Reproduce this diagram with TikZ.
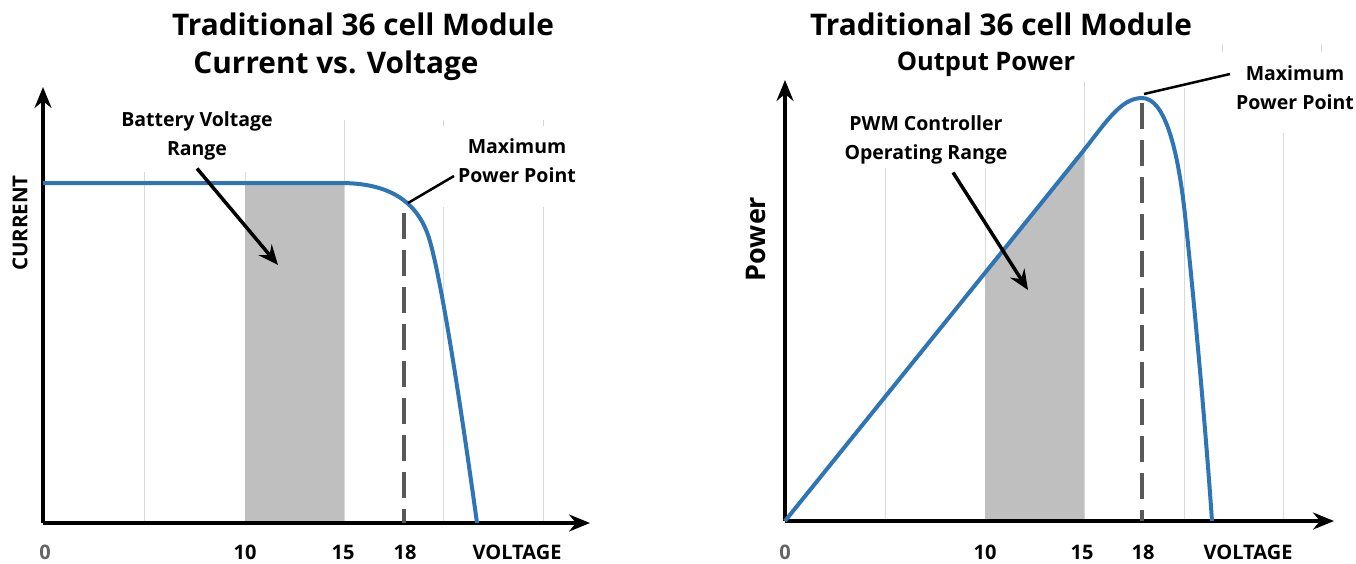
\documentclass[tikz,border=0pt]{standalone}
\usepackage{fontspec}
\setmainfont{Open Sans}
\usetikzlibrary{arrows.meta}
\definecolor{pvblue}{RGB}{46,117,182}
\definecolor{pvshade}{RGB}{191,191,191}
\definecolor{pvdash}{RGB}{89,89,89}
\definecolor{pvgrid}{RGB}{217,217,217}
\definecolor{pvzero}{RGB}{100,100,100}

\begin{document}
\begin{tikzpicture}[x=1pt, y=-1pt,
    ttl/.style={font=\bfseries\fontsize{29.8}{34}\selectfont, inner sep=0pt, anchor=base},
    subttl/.style={font=\bfseries\fontsize{25.5}{28}\selectfont, inner sep=0pt, anchor=base},
    lbl/.style={font=\bfseries\fontsize{19.5}{29}\selectfont, align=center, inner sep=0pt},
    tck/.style={font=\bfseries\fontsize{20}{22}\selectfont, inner sep=0pt, anchor=base},
    axis/.style={line width=3.5pt, -{Stealth[length=21pt, width=17pt, inset=7pt]}},
    pointer/.style={line width=3.5pt, -{Stealth[length=20pt, width=17pt, inset=7pt]}},
    leader/.style={line width=2.5pt},
    curve/.style={line width=4pt, draw=pvblue, line join=round},
    mpp/.style={line width=3.5pt, draw=pvdash, dash pattern=on 26pt off 11pt},
    grid/.style={line width=1pt, draw=pvgrid}
  ]
  \useasboundingbox (0,0) rectangle (1356,563);

  % Left: current vs. voltage
  \foreach \gx/\gtop/\gbot in {144/172/523, 245/172/523, 344/120/523, 443/120/126, 443/207/523, 543/120/126, 543/207/523}
    \draw[grid] (\gx,\gtop) -- (\gx,\gbot);
  \fill[pvshade] (245,183) rectangle (344,523);
  \coordinate (oA) at (43,523);
  \coordinate (xA) at (590,523);
  \coordinate (yA) at (43,87);
  \draw[axis] (oA) -- (xA);
  \draw[axis] (oA) -- (yA);
  \draw[mpp] (404,213) -- (404,523);
  \draw[curve] (43,183) -- (340,183) .. controls (385,183) and (415,198) .. (428,235)
    .. controls (440,270) and (460,400) .. (477,523);

  \node[ttl] (ttlA) at (363,35) {Traditional 36 cell Module};
  \node[ttl] (subA) at (336,73) {Current vs. Voltage};
  \node[lbl] (battlbl) at (197,136) {Battery Voltage\\Range};
  \node[lbl] (mppA) at (517,161) {Maximum\\Power Point};
  \node[tck, rotate=90, anchor=center, font=\bfseries\fontsize{20.5}{22}\selectfont] (curlbl) at (20,223) {CURRENT};

  \node[tck, text=pvzero] (zeroA) at (45,559) {0};
  \node[tck] (tenA) at (245,559) {10};
  \node[tck] (fifA) at (343,559) {15};
  \node[tck] (eigA) at (405,559) {18};
  \node[tck] (voltA) at (517,559) {VOLTAGE};

  \coordinate (battTip) at (278,265);
  \coordinate (mppAtip) at (408,203);
  \draw[pointer] ([yshift=-8pt]battlbl.south) -- (battTip);
  \draw[leader] ([shift={(-4pt,-15pt)}]mppA.west) -- (mppAtip);

  % Right: output power
  \foreach \gx/\gtop/\gbot in {885/168/521, 985/168/521, 1084/82/521, 1184/88/521, 1283/133/521, 1222/45/52, 1321/45/52}
    \draw[grid] (\gx,\gtop) -- (\gx,\gbot);
  \fill[pvshade] (985,519) -- (985,273) -- (1084,150) -- (1084,519) -- cycle;
  \coordinate (oB) at (785,521);
  \coordinate (xB) at (1334,521);
  \coordinate (yB) at (785,80);
  \draw[axis] (oB) -- (xB);
  \draw[axis] (oB) -- (yB);
  \draw[mpp] (1142,103) -- (1142,521);
  \draw[curve] (785,521) -- (1080,155) .. controls (1105,124) and (1120,98) .. (1142,98)
    .. controls (1165,98) and (1178,150) .. (1185,215) .. controls (1193,290) and (1205,420) .. (1212,521);

  \node[ttl] (ttlB) at (1001,35) {Traditional 36 cell Module};
  \node[subttl] (subB) at (986,70) {Output Power};
  \node[lbl] (pwmlbl) at (926,140) {PWM Controller\\Operating Range};
  \node[lbl] (mppB) at (1295,88) {Maximum\\Power Point};
  \node[font=\bfseries\fontsize{27}{30}\selectfont, inner sep=0pt, rotate=90] (powlbl) at (756,239) {Power};

  \node[tck, text=pvzero] (zeroB) at (785,559) {0};
  \node[tck] (tenB) at (985,559) {10};
  \node[tck] (fifB) at (1082,559) {15};
  \node[tck] (eigB) at (1143,559) {18};
  \node[tck] (voltB) at (1248,559) {VOLTAGE};

  \coordinate (pwmTip) at (1028,290);
  \coordinate (mppBtip) at (1144,94);
  \draw[pointer] ([shift={(27pt,-8pt)}]pwmlbl.south) -- (pwmTip);
  \draw[leader] ([shift={(-6pt,14pt)}]mppB.west) -- (mppBtip);
\end{tikzpicture}
\end{document}
